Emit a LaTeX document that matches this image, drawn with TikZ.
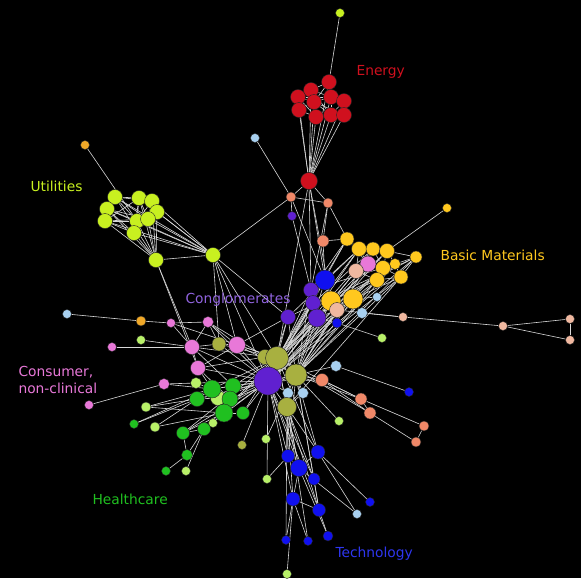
\documentclass[tikz,border=0pt]{standalone}
\usepackage{fontspec}
\setmainfont{DejaVu Sans}
\usepackage{xcolor}
\usepackage{tikz}

\definecolor{cEn}{HTML}{D0101E}
\definecolor{cUt}{HTML}{C8F020}
\definecolor{cYe}{HTML}{FFC81E}
\definecolor{cSa}{HTML}{F08868}
\definecolor{cPc}{HTML}{F0B8A0}
\definecolor{cPk}{HTML}{E878D8}
\definecolor{cPu}{HTML}{6020D0}
\definecolor{cBl}{HTML}{1010F0}
\definecolor{cLb}{HTML}{A8D0F0}
\definecolor{cGr}{HTML}{20C020}
\definecolor{cLg}{HTML}{B8F068}
\definecolor{cOl}{HTML}{A8B040}
\definecolor{cOr}{HTML}{F0A828}
\definecolor{cLink}{HTML}{D8D8D8}

\pgfdeclarelayer{bg}
\pgfdeclarelayer{edgelayer}
\pgfsetlayers{bg,edgelayer,main}

\tikzset{
  dot/.style={circle, draw=black!85, line width=0.4pt, inner sep=0pt, minimum size=#1+1pt},
  link/.style={draw=cLink, line width=0.6pt},
  sector/.style={font=\fontsize{13.8}{16.5}\selectfont, anchor=west, align=left}
}

\begin{document}
\begin{tikzpicture}[x=1pt, y=-1pt]
  \begin{pgfonlayer}{bg}
    \fill[black] (0,0) rectangle (581,578);
  \end{pgfonlayer}

  % energy
  \foreach \n/\x/\y in {e1/329/82, e2/311/90, e3/298/97, e4/331/97, e5/344/101,
      e6/314/102, e7/299/110, e8/316/117, e9/331/115, e10/344/115}
    \node[dot=14pt, fill=cEn] (\n) at (\x,\y) {};
  \node[dot=16pt, fill=cEn] (eh) at (309,181) {};
  \node[dot=8pt, fill=cUt] (ltop) at (340,13) {};
  \node[dot=8pt, fill=cLb] (lb1) at (255,138) {};

  % utilities
  \foreach \n/\x/\y in {u1/115/197, u2/139/198, u3/152/201, u4/107/209, u5/157/212,
      u6/105/221, u7/137/221, u8/148/219, u9/134/233, u10/156/260, u11/213/255}
    \node[dot=14pt, fill=cUt] (\n) at (\x,\y) {};
  \node[dot=8pt, fill=cOr] (or1) at (85,145) {};

  % basic materials
  \node[dot=9pt, fill=cSa] (s1) at (291,197) {};
  \node[dot=9pt, fill=cSa] (s2) at (328,203) {};
  \node[dot=8pt, fill=cPu] (p1) at (292,216) {};
  \node[dot=8pt, fill=cYe] (y0) at (447,208) {};
  \node[dot=11pt, fill=cSa] (s3) at (323,241) {};
  \foreach \n/\x/\y/\d in {y1/347/239/13, y2/359/249/14, y3/373/249/13, y4/387/251/14,
      y5/416/257/11, y6/395/264/10, y7/383/268/14, y8/401/277/13, y9/377/280/14,
      y10/331/301/19, y11/353/299/19}
    \node[dot=\d pt, fill=cYe] (\n) at (\x,\y) {};
  \node[dot=15pt, fill=cPk] (pk1) at (368,264) {};
  \node[dot=14pt, fill=cPc] (pc1) at (356,271) {};
  \node[dot=19pt, fill=cBl] (b1) at (325,280) {};
  \node[dot=14pt, fill=cPu] (p2) at (311,290) {};
  \node[dot=8pt, fill=cLb] (lb2) at (377,297) {};
  \node[dot=14pt, fill=cPu] (p3) at (313,303) {};
  \node[dot=14pt, fill=cPc] (pc2) at (337,310) {};
  \node[dot=10pt, fill=cLb] (lb3) at (362,313) {};
  \node[dot=17pt, fill=cPu] (p4) at (317,318) {};
  \node[dot=14pt, fill=cPu] (p5) at (288,317) {};
  \node[dot=9pt, fill=cBl] (b2) at (337,323) {};
  \foreach \n/\x/\y in {pc3/403/317, pc4/503/326, pc5/570/319, pc6/570/340}
    \node[dot=8pt, fill=cPc] (\n) at (\x,\y) {};
  \node[dot=8pt, fill=cLg] (l2) at (382,338) {};

  % consumer, healthcare
  \node[dot=8pt, fill=cLb] (lb4) at (67,314) {};
  \node[dot=9pt, fill=cOr] (or2) at (141,321) {};
  \node[dot=8pt, fill=cPk] (pk2) at (171,323) {};
  \node[dot=10pt, fill=cPk] (pk3) at (208,322) {};
  \node[dot=8pt, fill=cLg] (l3) at (141,340) {};
  \node[dot=8pt, fill=cPk] (pk4) at (112,347) {};
  \node[dot=14pt, fill=cPk] (pk5) at (192,347) {};
  \node[dot=13pt, fill=cOl] (ol1) at (219,344) {};
  \node[dot=16pt, fill=cPk] (pk6) at (237,345) {};
  \node[dot=14pt, fill=cPk] (pk7) at (198,368) {};
  \node[dot=10pt, fill=cPk] (pk8) at (164,384) {};
  \node[dot=10pt, fill=cLg] (l4) at (196,383) {};
  \node[dot=8pt, fill=cPk] (pk9) at (89,405) {};
  \node[dot=9pt, fill=cLg] (l6) at (146,407) {};
  \node[dot=8pt, fill=cGr] (g7) at (134,424) {};
  \node[dot=9pt, fill=cLg] (l7) at (155,427) {};
  \node[dot=8pt, fill=cLg] (l5) at (213,423) {};
  \node[dot=14pt, fill=cLg] (lg1) at (218,398) {};
  \foreach \n/\x/\y/\d in {g1/212/389/17, g2/233/386/15, g3/197/399/14, g4/230/399/15,
      g5/224/413/17, g6/243/413/12, g8/183/433/12, g9/204/429/12, g10/187/455/10,
      g11/166/471/8}
    \node[dot=\d pt, fill=cGr] (\n) at (\x,\y) {};
  \node[dot=8pt, fill=cLg] (l9) at (186,471) {};
  \node[dot=8pt, fill=cOl] (ol2) at (242,445) {};
  \node[dot=8pt, fill=cLg] (l8) at (266,439) {};

  % centre
  \node[dot=14pt, fill=cOl] (ol3) at (265,357) {};
  \node[dot=22pt, fill=cOl] (ol4) at (277,358) {};
  \node[dot=21pt, fill=cOl] (ol5) at (296,375) {};
  \node[dot=27pt, fill=cPu] (pu) at (268,381) {};
  \node[dot=10pt, fill=cLb] (lb5) at (336,366) {};
  \node[dot=12pt, fill=cSa] (s4) at (322,380) {};
  \node[dot=8pt, fill=cBl] (b3) at (409,392) {};
  \node[dot=10pt, fill=cLb] (lb6) at (288,393) {};
  \node[dot=10pt, fill=cLb] (lb7) at (303,393) {};
  \node[dot=18pt, fill=cOl] (ol6) at (287,407) {};
  \node[dot=11pt, fill=cSa] (s5) at (361,399) {};
  \node[dot=11pt, fill=cSa] (s6) at (370,413) {};
  \node[dot=9pt, fill=cSa] (s7) at (424,426) {};
  \node[dot=9pt, fill=cSa] (s8) at (416,442) {};
  \node[dot=8pt, fill=cLg] (l10) at (339,421) {};

  % technology
  \foreach \n/\x/\y/\d in {t1/288/456/12, t2/318/452/13, t3/299/468/16, t4/314/479/11,
      t5/293/499/13, t6/319/510/12, t7/370/502/8, t8/286/540/8, t9/308/541/8,
      t10/328/536/9}
    \node[dot=\d pt, fill=cBl] (\n) at (\x,\y) {};
  \node[dot=8pt, fill=cLg] (l12) at (267,479) {};
  \node[dot=8pt, fill=cLb] (lb8) at (357,514) {};
  \node[dot=8pt, fill=cLg] (l13) at (287,574) {};

  % links
  \begin{pgfonlayer}{edgelayer}
    \foreach \a/\b in {e1/e2, e1/e4, e2/e3, e2/e6, e3/e7, e4/e5, e4/e6, e5/e10,
        e6/e8, e7/e8, e8/e9, e9/e10, e6/e9, e4/e9, e2/e4, e3/e6, e5/e9, e1/ltop,
        e3/e8, e7/e6, e6/e10, e2/e9, e1/e6, e3/e4,
        e1/eh, e2/eh, e3/eh, e4/eh, e5/eh, e6/eh, e7/eh, e8/eh, e9/eh, e10/eh,
        eh/s1, eh/s2, eh/b1, eh/p2, eh/y10, eh/ol4, s1/lb1, s1/s2, s2/s3, s2/y1,
        s3/b1, s3/y1, p1/p2, p1/s1, s1/b1, s2/p2}
      \draw[link] (\a) -- (\b);
    \foreach \a/\b in {u1/u2, u1/u4, u1/u7, u2/u3, u2/u7, u3/u5, u3/u8, u4/u6,
        u4/u7, u5/u8, u6/u9, u7/u8, u7/u9, u8/u9, u5/u9, u2/u6, u1/u8, u3/u7,
        u6/u8, u1/u6, u2/u8, u4/u8, u1/u3, u6/u7, u2/u9, u4/u9,
        or1/u7, u10/u11, u11/s1, u11/pk6, u11/ol4, u11/pu, u11/p5,
        u10/pk5, u10/pk7, u11/ol1}
      \draw[link] (\a) -- (\b);
    \foreach \u in {u1,u2,u3,u4,u5,u6,u7,u8,u9} {
      \draw[link] (\u) -- (u10);
      \draw[link] (\u) -- (u11);
    }
    \foreach \a/\b in {y1/y2, y2/y3, y3/y4, y4/y5, y4/y6, y2/pk1, y3/pk1, pk1/y7,
        y6/y7, y7/y8, y7/y9, y9/pc1, pc1/pk1, y5/y6, y5/y8, y0/y4, y9/y11,
        y11/y10, y10/p3, y10/b1, b1/p2, p2/p3, p3/p4, p4/pc2, pc2/y11, y11/lb3,
        lb3/pc3, pc2/pc3, pc3/pc4, pc4/pc5, pc5/pc6, pc6/pc4, y11/lb2, b2/l2,
        p4/b2, y2/ol4, y3/ol5, y4/pu, y5/ol5, y7/ol4, y8/pu, y9/ol5, pk1/ol5,
        pc1/pu, y1/ol4, y10/ol4, y11/ol5, b1/pu, b1/ol4, p2/pu, p3/ol4, p4/pu,
        p4/ol5, p5/pu, p5/ol4, p5/pk6, pc2/ol5, y2/pu, y6/ol5, y3/ol4, y1/p2,
        y2/b1, y8/ol6, y5/pu, y4/y7, y3/y7, y2/pc1, y8/y9, y6/y8, y1/pk1,
        y5/y10, y8/y11, y4/p4, y3/p3, y6/p2, y7/pc2, y9/y10, pc1/y10, pk1/p4,
        y5/p5, y4/ol4, y6/pu, y8/ol5, y7/pu, y2/p5, y1/pu, b1/ol5, p2/ol5,
        p3/pu, p4/ol4, y10/pu, y11/pu, y10/ol5, y11/ol4, p5/ol5, pc2/pu}
      \draw[link] (\a) -- (\b);
    \foreach \a/\b in {lb4/or2, or2/pk2, pk2/pk5, pk2/pk3, pk3/pk5, pk3/pk6,
        pk3/ol1, l3/pk5, pk4/pk5, pk5/ol1, ol1/pk6, pk5/pk7, pk7/g1, pk8/pk9,
        pk8/g1, pk8/l4, l4/g1, pk5/ol4, pk6/ol4, pk6/pu, ol1/pu, pk7/pu, pk5/pu,
        pk7/ol3, g1/g2, g1/g3, g2/g4, g3/lg1, lg1/g4, g4/g5, g5/g6, g5/l5,
        g1/pu, g2/pu, g4/pu, g5/pu, g6/pu, g2/ol4, l6/g3, l6/g1, g7/g3, l7/g1,
        l7/g5, g8/g5, g9/g5, g8/g9, g8/g10, g10/g9, g10/g11, l9/g9, g9/pu,
        g8/pu, l5/g5, ol2/pu, l8/ol5, g6/ol4, pk2/ol4, pk3/ol5, g3/ol5, g8/ol4,
        pk7/pk6, pk5/g2, pk7/g4, g1/ol4, g3/pu, lg1/pu, g4/ol5, g5/ol4,
        pk6/ol5, ol1/ol4, pk3/pu, g9/ol4, l4/pu, g7/g1, l6/g5}
      \draw[link] (\a) -- (\b);
    \foreach \a/\b in {ol3/ol4, ol4/pu, pu/ol5, ol5/lb5, ol5/s4, lb5/b3, s4/s5,
        s5/s7, s4/s6, s6/s8, s5/s6, s7/s8, ol5/s5, ol5/lb7, pu/lb6, pu/ol6,
        ol6/lb6, ol6/lb7, ol5/l10, ol5/ol6, ol4/s6, ol4/s5, ol4/ol6, pu/s4,
        t1/pu, t1/ol6, t2/ol5, t2/ol6, t3/ol6, t3/pu, t4/ol5, t5/ol6, t5/pu,
        t6/ol6, t6/ol5, t1/t3, t2/t3, t3/t5, t4/t6, t5/t6, t7/t2, lb8/t2,
        lb8/t3, t8/t5, t9/t5, t10/t6, l13/t5, t8/ol6, t9/ol6, t10/t3, l12/pu,
        l12/t1, t2/ol4, t4/pu, t3/ol4, t4/ol6, t6/pu, t1/ol5}
      \draw[link] (\a) -- (\b);
  \end{pgfonlayer}

  % sector labels
  \node[sector, text=cEn] (lEn) at (353,72) {Energy};
  \node[sector, text=cUt] (lUt) at (27,186) {Utilities};
  \node[sector, text=cYe] (lBm) at (437,255) {Basic Materials};
  \node[sector, text=cPu!70!white] (lCo) at (182,300) {Conglomerates};
  \node[sector, text=cPk] (lCn) at (15,380) {Consumer,\\non-clinical};
  \node[sector, text=cGr] (lHc) at (89,499) {Healthcare};
  \node[sector, text=cBl!80!cLb] (lTe) at (332,554) {Technology};
\end{tikzpicture}
\end{document}
